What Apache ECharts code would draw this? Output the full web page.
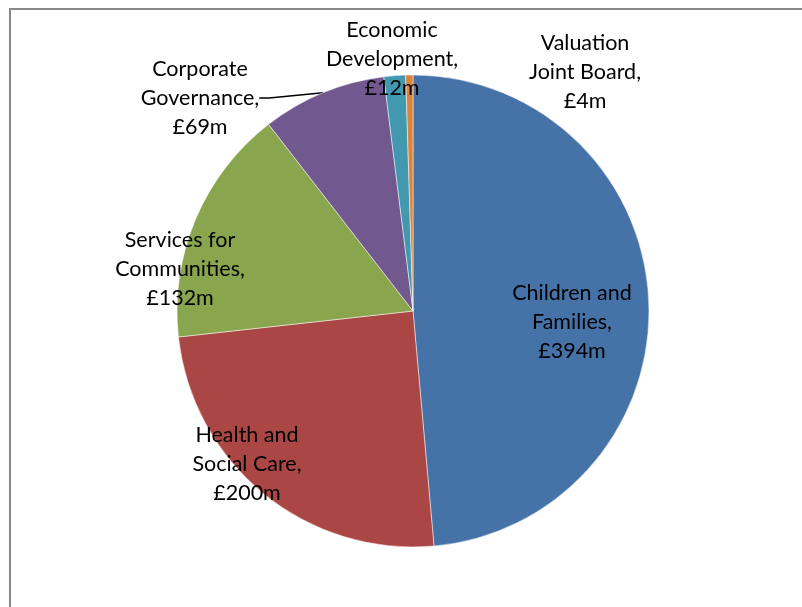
<!DOCTYPE html>
<html>
<head>
<meta charset="utf-8">
<script src="https://cdn.jsdelivr.net/npm/echarts@6/dist/echarts.min.js"></script>
<style>
html,body{margin:0;padding:0;background:#fff;}
#c{width:802px;height:607px;}
</style>
</head>
<body>
<div id="c"></div>
<script>
const categories = ['Children and\nFamilies', 'Health and\nSocial Care', 'Services for\nCommunities', 'Corporate\nGovernance', 'Economic\nDevelopment', 'Valuation\nJoint Board'];
const values = [394, 200, 132, 69, 12, 4];
const colors = ['#4572A7', '#AA4643', '#89A54E', '#71588F', '#4198AF', '#DB843D'];

// label placement (layout, not data)
const labelPos = [[572, 322], [247, 464], [180, 269], [200, 98], [392, 59], [585, 72]];

const chart = echarts.init(document.getElementById('c'), null, {renderer: 'canvas'});
chart.setOption({
  animation: false,
  backgroundColor: '#fff',
  graphic: [{
    type: 'rect',
    shape: {x: 10, y: 9, width: 900, height: 700},
    style: {fill: 'none', stroke: '#888', lineWidth: 2},
    silent: true
  }],
  series: [{
    type: 'pie',
    center: [413, 311],
    radius: 236,
    startAngle: 90,
    clockwise: true,
    data: categories.map((n, i) => ({
      name: n, value: values[i],
      itemStyle: {color: colors[i]},
      label: {position: i === 3 ? 'outside' : 'inside'},
      labelLine: {show: i === 3, lineStyle: {color: '#000', width: 1.5}}
    })),
    itemStyle: {borderColor: '#fff', borderWidth: 0.5},
    label: {
      show: true,
      formatter: p => p.name + ',\n£' + p.value + 'm',
      fontFamily: 'Lato',
      fontSize: 21.5,
      lineHeight: 29,
      color: '#000',
      align: 'center'
    },
    labelLine: {show: false, length: 10, length2: 10},
    labelLayout: function (params) {
      const pos = labelPos[params.dataIndex];
      return {x: pos[0], y: pos[1], align: 'center', verticalAlign: 'middle', hideOverlap: false, moveOverlap: null};
    }
  }]
});
</script>
</body>
</html>
